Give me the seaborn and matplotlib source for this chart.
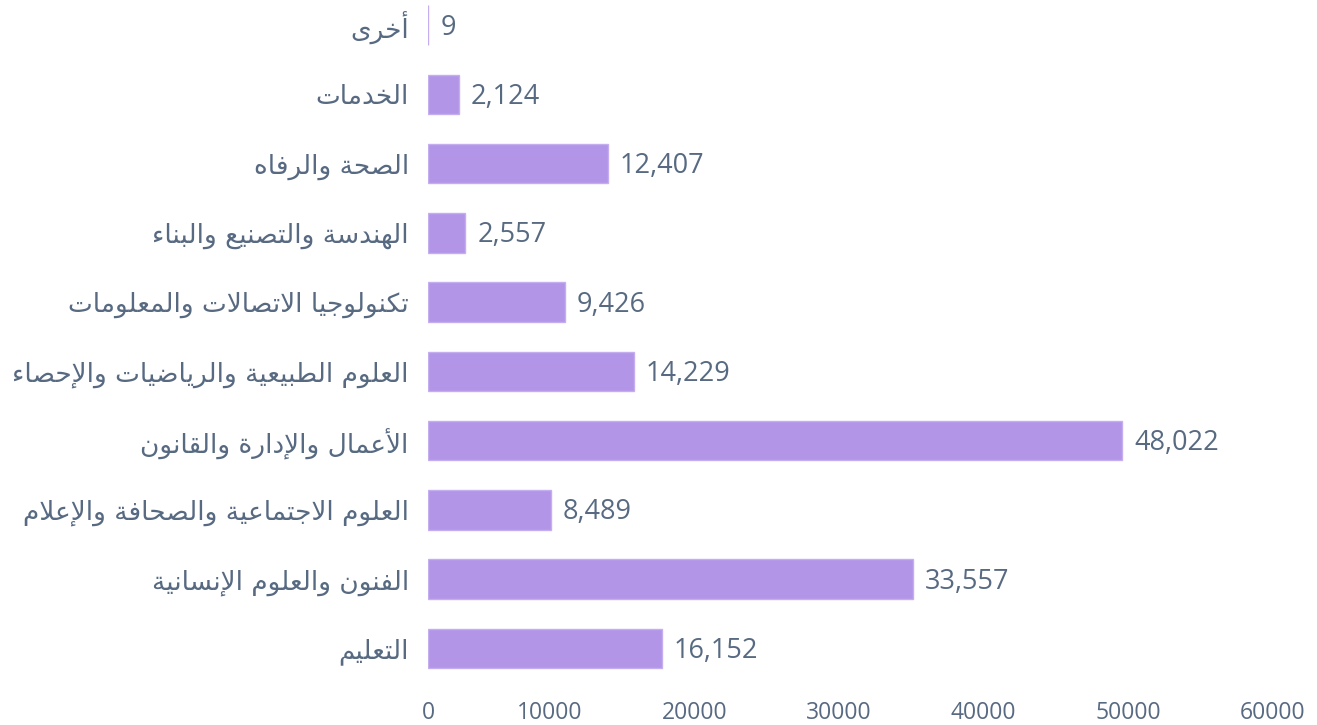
import matplotlib
matplotlib.use("Agg")
import matplotlib.pyplot as plt
from matplotlib.transforms import ScaledTranslation, offset_copy
import seaborn as sns
import pandas as pd

categories = [
    "أخرى",
    "الخدمات",
    "الصحة والرفاه",
    "الهندسة والتصنيع والبناء",
    "تكنولوجيا الاتصالات والمعلومات",
    "العلوم الطبيعية والرياضيات والإحصاء",
    "الأعمال والإدارة والقانون",
    "العلوم الاجتماعية والصحافة والإعلام",
    "الفنون والعلوم الإنسانية",
    "التعليم",
]
values = [9, 2124, 12407, 2557, 9426, 14229, 48022, 8489, 33557, 16152]
x_ticks = [0, 10000, 20000, 30000, 40000, 50000, 60000]
x_tick_labels = ["0", "10000", "20000", "30000", "40000", "50000", "60000"]

# --- Arabic contextual shaping (matplotlib has no complex text layout) ---
_SEQ = [('ء', 1), ('آ', 2), ('أ', 2), ('ؤ', 2), ('إ', 2), ('ئ', 4), ('ا', 2), ('ب', 4),
        ('ة', 2), ('ت', 4), ('ث', 4), ('ج', 4), ('ح', 4), ('خ', 4), ('د', 2), ('ذ', 2),
        ('ر', 2), ('ز', 2), ('س', 4), ('ش', 4), ('ص', 4), ('ض', 4), ('ط', 4), ('ظ', 4),
        ('ع', 4), ('غ', 4), ('ف', 4), ('ق', 4), ('ك', 4), ('ل', 4), ('م', 4), ('ن', 4),
        ('ه', 4), ('و', 2), ('ى', 2), ('ي', 4)]
FORMS = {}
_cp = 0xFE80
for _ch, _n in _SEQ:
    FORMS[_ch] = (_cp, _n)
    _cp += _n
LAMALEF = {'آ': 0xFEF5, 'أ': 0xFEF7, 'إ': 0xFEF9, 'ا': 0xFEFB}


def shape(text):
    toks = []
    i = 0
    while i < len(text):
        c = text[i]
        if c == 'ل' and i + 1 < len(text) and text[i + 1] in LAMALEF:
            toks.append(('LA', text[i + 1]))
            i += 2
        else:
            toks.append((c, None))
            i += 1

    def dual(t):
        return t[0] in FORMS and FORMS[t[0]][1] == 4

    def joinable(t):
        return t[0] == 'LA' or (t[0] in FORMS and FORMS[t[0]][1] >= 2)

    out = []
    for k, t in enumerate(toks):
        prev = toks[k - 1] if k > 0 else None
        nxt = toks[k + 1] if k + 1 < len(toks) else None
        jp = prev is not None and dual(prev) and joinable(t)
        jn = dual(t) and nxt is not None and joinable(nxt)
        if t[0] == 'LA':
            out.append(chr(LAMALEF[t[1]] + (1 if jp else 0)))
        elif t[0] in FORMS:
            base, n = FORMS[t[0]]
            if n == 1:
                out.append(chr(base))
            elif n == 2:
                out.append(chr(base + (1 if jp else 0)))
            else:
                off = {(False, False): 0, (True, False): 1, (False, True): 2, (True, True): 3}[(jp, jn)]
                out.append(chr(base + off))
        else:
            out.append(t[0])
    return ''.join(reversed(out))


sns.set_theme(style="white")
plt.rcParams['font.family'] = ['Open Sans', 'DejaVu Sans']

TEXT = "#576a82"
BAR = "#b395e8"
EDGE = "#c4aef0"

W, H, DPI = 1317, 725, 100
fig = plt.figure(figsize=(W / DPI, H / DPI), dpi=DPI)
left_px, right_px = 428.3, 1295.4
top_px, bottom_px = 0, 683
ax = fig.add_axes([left_px / W, 1 - bottom_px / H, (right_px - left_px) / W, (bottom_px - top_px) / H])

df = pd.DataFrame({"category": categories, "value": values})
sns.barplot(data=df, x="value", y="category", orient="h", color=BAR,
            width=0.57, saturation=1, edgecolor=EDGE, linewidth=1, ax=ax)

ax.set_xlim(0, 60000)
ax.set_ylim(9.498, -0.361)
ax.set_xlabel("")
ax.set_ylabel("")
for s in ax.spines.values():
    s.set_visible(False)
ax.grid(False)

ax.set_yticks(range(len(categories)))
ax.set_yticklabels([shape(c) for c in categories], family=['DejaVu Sans'], fontsize=19, color=TEXT)
ax.tick_params(axis='y', length=0, pad=14)

ax.set_xticks(x_ticks)
ax.set_xticklabels(x_tick_labels, fontsize=16.5, color=TEXT)
ax.tick_params(axis='x', length=0, pad=13)
for lbl in ax.get_xticklabels()[1:]:
    lbl.set_transform(lbl.get_transform() + ScaledTranslation(-23 / DPI, 0, fig.dpi_scale_trans))

trans = offset_copy(ax.transData, fig=fig, x=12, y=-2.5, units='dots')
for i, v in enumerate(values):
    ax.text(v, i, f"{v:,}", transform=trans, ha='left', va='center',
            fontsize=19.5, color=TEXT)

fig.savefig("out.png", dpi=DPI)
